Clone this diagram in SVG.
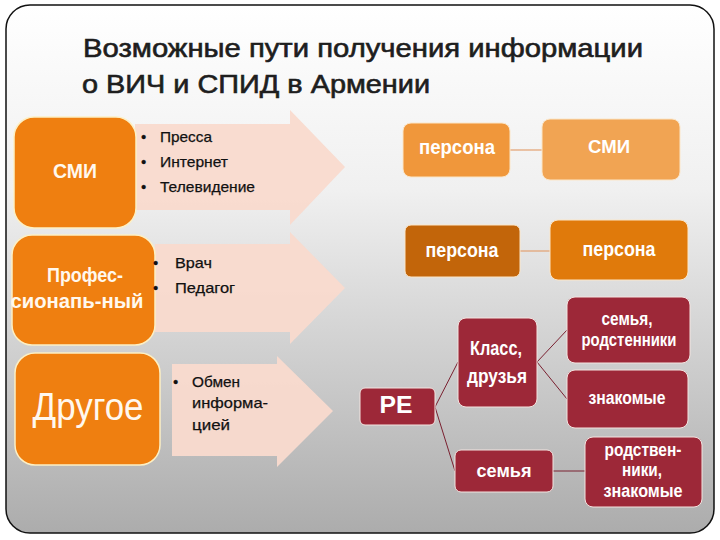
<svg xmlns="http://www.w3.org/2000/svg" width="720" height="540" viewBox="0 0 720 540">
<defs>
<linearGradient id="bg" x1="0" y1="0" x2="0" y2="1">
<stop offset="0" stop-color="#ffffff"/>
<stop offset="0.35" stop-color="#f0f0f0"/>
<stop offset="1" stop-color="#acacac"/>
</linearGradient>
<style>
text{font-family:"Liberation Sans Narrow","Liberation Sans",Arial,sans-serif}
.title{font-size:25px;fill:#1e1e1e;stroke:#1e1e1e;stroke-width:0.6}
.bl{font-size:15px;fill:#111;stroke:#111;stroke-width:0.25}
.on{fill:#ef7f10;stroke:#fdf0c4;stroke-width:1.5}
.arr{fill:#f9dacd;opacity:0.95}
.wl{fill:#fff8ee;font-weight:bold;text-anchor:middle}
.wt{fill:#ffffff;font-weight:bold;text-anchor:middle}
.red{fill:#9d2838;stroke:#f4e4e0;stroke-width:1}
.c-or{stroke:#e3a070;stroke-width:1.2;fill:none}
.c-rd{stroke:#7a2030;stroke-width:1;fill:none}
</style>
</defs>
<rect x="0" y="0" width="720" height="540" fill="#ffffff"/>
<rect id="frame" x="6" y="5" width="708" height="528" rx="24" ry="24" fill="url(#bg)" stroke="#111" stroke-width="1.5"/>
<g id="title">
<text class="title" x="83" y="57" textLength="560" lengthAdjust="spacingAndGlyphs">Возможные пути получения информации</text>
<text class="title" x="82" y="93" textLength="348" lengthAdjust="spacingAndGlyphs">о ВИЧ и СПИД в Армении</text>
</g>
<g id="arrows">
<polygon class="arr" points="135,124 290,124 290,110 345,167 290,225 290,210 135,210"/>
<polygon class="arr" points="155,244 290,244 290,232 345,288 290,344 290,332 155,332"/>
<polygon class="arr" points="172,364 277,364 277,356 333,411 277,467 277,456 172,456"/>
</g>
<g id="node-smi-left">
<rect class="on" x="14" y="117" width="122" height="111" rx="20"/>
<text class="wl" x="75" y="178" font-size="20" textLength="44" lengthAdjust="spacingAndGlyphs">СМИ</text>
</g>
<g id="list-smi">
<text class="bl" x="141" y="142">•</text><text class="bl" x="160" y="142" textLength="52" lengthAdjust="spacingAndGlyphs">Пресса</text>
<text class="bl" x="141" y="167">•</text><text class="bl" x="160" y="167" textLength="68" lengthAdjust="spacingAndGlyphs">Интернет</text>
<text class="bl" x="141" y="192">•</text><text class="bl" x="160" y="192" textLength="95" lengthAdjust="spacingAndGlyphs">Телевидение</text>
</g>
<g id="node-prof">
<rect class="on" x="12" y="235" width="143" height="110" rx="20"/>
<text class="wl" x="85" y="282" font-size="20" textLength="76" lengthAdjust="spacingAndGlyphs">Профес-</text>
<text class="wl" x="77" y="308" font-size="20" textLength="133" lengthAdjust="spacingAndGlyphs">сионапь-ный</text>
</g>
<g id="list-prof">
<text class="bl" x="153" y="268">•</text><text class="bl" x="175" y="268" textLength="37" lengthAdjust="spacingAndGlyphs">Врач</text>
<text class="bl" x="153" y="293">•</text><text class="bl" x="175" y="293" textLength="60" lengthAdjust="spacingAndGlyphs">Педагог</text>
</g>
<g id="node-other">
<rect class="on" x="15" y="353" width="145" height="112" rx="20"/>
<text class="wl" x="88" y="420" font-size="38" style="font-weight:normal" textLength="111" lengthAdjust="spacingAndGlyphs">Другое</text>
</g>
<g id="list-other">
<text class="bl" x="173" y="387">•</text><text class="bl" x="192" y="387" textLength="48" lengthAdjust="spacingAndGlyphs">Обмен</text>
<text class="bl" x="192" y="408" textLength="76" lengthAdjust="spacingAndGlyphs">информа-</text>
<text class="bl" x="192" y="430" textLength="38" lengthAdjust="spacingAndGlyphs">цией</text>
</g>
<g id="connectors">
<line class="c-or" x1="510" y1="150" x2="542" y2="150"/>
<line class="c-or" x1="520" y1="251" x2="550" y2="251"/>
<line class="c-rd" x1="435" y1="407" x2="458" y2="362"/>
<line class="c-rd" x1="435" y1="407" x2="455" y2="471"/>
<line class="c-rd" x1="537" y1="362" x2="567" y2="330"/>
<line class="c-rd" x1="537" y1="362" x2="567" y2="399"/>
<line class="c-rd" x1="553" y1="471" x2="585" y2="471"/>
</g>
<g id="node-persona1">
<rect x="403" y="123" width="107" height="54" rx="8" fill="#f0973b" stroke="#fbe6c8" stroke-width="1"/>
<text class="wt" x="457" y="154" font-size="21" textLength="76" lengthAdjust="spacingAndGlyphs">персона</text>
</g>
<g id="node-smi-right">
<rect x="542" y="119" width="138" height="61" rx="8" fill="#f1a453" stroke="#fbe6c8" stroke-width="1"/>
<text class="wt" x="609" y="153" font-size="19" textLength="42" lengthAdjust="spacingAndGlyphs">СМИ</text>
</g>
<g id="node-persona2">
<rect x="405" y="225" width="115" height="52" rx="6" fill="#c2650a" stroke="#fbe6c8" stroke-width="1"/>
<text class="wt" x="462" y="257" font-size="21" textLength="73" lengthAdjust="spacingAndGlyphs">персона</text>
</g>
<g id="node-persona3">
<rect x="550" y="220" width="138" height="60" rx="8" fill="#e07a0b" stroke="#fbe6c8" stroke-width="1"/>
<text class="wt" x="619" y="256" font-size="21" textLength="73" lengthAdjust="spacingAndGlyphs">персона</text>
</g>
<g id="node-pe">
<rect class="red" x="360" y="388" width="75" height="37" rx="5"/>
<text class="wt" x="396" y="413" font-size="23" textLength="33" lengthAdjust="spacingAndGlyphs">PE</text>
</g>
<g id="node-klass">
<rect class="red" x="458" y="318" width="79" height="89" rx="8"/>
<text class="wt" x="496" y="355" font-size="21" textLength="52" lengthAdjust="spacingAndGlyphs">Класс,</text>
<text class="wt" x="497" y="383" font-size="21" textLength="60" lengthAdjust="spacingAndGlyphs">друзья</text>
</g>
<g id="node-family-rel">
<rect class="red" x="567" y="297" width="123" height="66" rx="8"/>
<text class="wt" x="627" y="325" font-size="18" textLength="51" lengthAdjust="spacingAndGlyphs">семья,</text>
<text class="wt" x="629" y="346" font-size="18" textLength="95" lengthAdjust="spacingAndGlyphs">родстенники</text>
</g>
<g id="node-acq">
<rect class="red" x="567" y="370" width="121" height="58" rx="8"/>
<text class="wt" x="627" y="404" font-size="18" textLength="77" lengthAdjust="spacingAndGlyphs">знакомые</text>
</g>
<g id="node-family">
<rect class="red" x="455" y="450" width="98" height="42" rx="6"/>
<text class="wt" x="504" y="477" font-size="19" textLength="55" lengthAdjust="spacingAndGlyphs">семья</text>
</g>
<g id="node-rel-acq">
<rect class="red" x="585" y="437" width="117" height="70" rx="8"/>
<text class="wt" x="643" y="456" font-size="18" textLength="77" lengthAdjust="spacingAndGlyphs">родствен-</text>
<text class="wt" x="642" y="476" font-size="18" textLength="40" lengthAdjust="spacingAndGlyphs">ники,</text>
<text class="wt" x="643" y="497" font-size="18" textLength="79" lengthAdjust="spacingAndGlyphs">знакомые</text>
</g>
</svg>
